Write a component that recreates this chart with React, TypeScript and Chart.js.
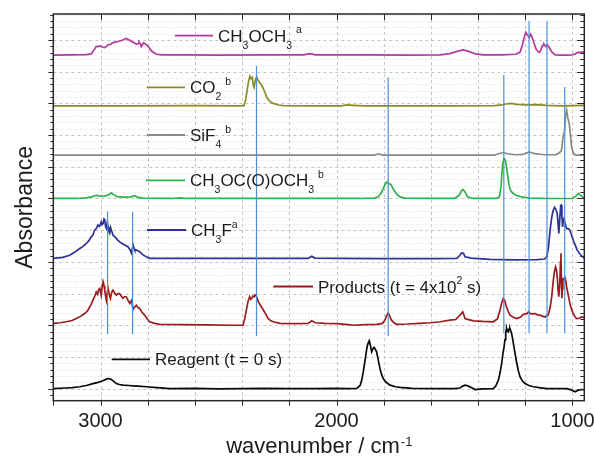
import React, { useEffect, useRef } from "react";
import { Chart, registerables } from "chart.js";

Chart.register(...registerables);

// ---------- DATA (wavenumber cm-1, absorbance offset units) ----------
const dmeSpectrum: number[][] = [
  [3200, 10.52], [3120, 10.53], [3060, 10.54], [3039, 10.56], [3028, 10.68], [3018, 10.8], [3010, 10.79],
  [3003, 10.81], [2990, 10.77], [2982, 10.76], [2975, 10.8], [2968, 10.85], [2958, 10.86], [2947, 10.92],
  [2935, 10.93], [2919, 10.97], [2905, 11.0], [2891, 11.05], [2880, 11.01], [2868, 10.95], [2858, 10.91],
  [2848, 10.87], [2840, 10.89], [2837, 10.94], [2830, 10.86], [2827, 10.79], [2822, 10.85], [2817, 10.91],
  [2808, 10.86], [2799, 10.81], [2785, 10.66], [2764, 10.55], [2740, 10.53], [2650, 10.53], [2500, 10.52],
  [2300, 10.53], [2140, 10.53], [2112, 10.57], [2090, 10.53], [1900, 10.53], [1700, 10.52], [1560, 10.53],
  [1520, 10.57], [1490, 10.64], [1463, 10.69], [1440, 10.64], [1410, 10.56], [1380, 10.53], [1300, 10.53],
  [1240, 10.55], [1222, 10.62], [1212, 10.85], [1204, 11.1], [1198, 11.24], [1192, 11.16], [1186, 11.12],
  [1183, 11.08], [1177, 11.18], [1172, 11.1], [1166, 10.97], [1155, 10.72], [1149, 10.66], [1142, 10.61],
  [1135, 10.66], [1130, 10.78], [1125, 10.84], [1121, 10.87], [1116, 10.82], [1112, 10.79], [1107, 10.85],
  [1102, 10.8], [1095, 10.71], [1085, 10.6], [1074, 10.53], [1050, 10.52], [1020, 10.52], [1002, 10.53],
  [990, 10.56], [980, 10.6], [970, 10.61], [960, 10.62], [950, 10.62],
];

const co2Spectrum: number[][] = [
  [3200, 8.92], [2900, 8.92], [2600, 8.93], [2420, 8.92], [2392, 8.93], [2385, 9.1], [2378, 9.45],
  [2372, 9.72], [2367, 9.86], [2362, 9.78], [2357, 9.82], [2352, 9.55], [2349, 9.5], [2345, 9.7],
  [2341, 9.8], [2338, 9.82], [2333, 9.74], [2326, 9.66], [2318, 9.58], [2310, 9.47], [2302, 9.32],
  [2296, 9.2], [2285, 9.08], [2268, 9.0], [2245, 8.95], [2225, 8.93], [2100, 8.92], [1980, 8.92],
  [1957, 8.95], [1930, 8.94], [1880, 8.92], [1700, 8.92], [1500, 8.92], [1330, 8.93], [1300, 8.95],
  [1280, 8.98], [1258, 9.0], [1240, 8.97], [1215, 8.96], [1190, 8.95], [1150, 8.96], [1110, 8.94],
  [1080, 8.93], [1040, 8.92], [1000, 8.93], [950, 8.94],
];

const sif4Spectrum: number[][] = [
  [3200, 7.37], [3000, 7.37], [2700, 7.37], [2400, 7.37], [2100, 7.37], [1840, 7.37], [1823, 7.41],
  [1805, 7.37], [1500, 7.37], [1330, 7.37], [1310, 7.42], [1293, 7.45], [1275, 7.41], [1240, 7.38],
  [1210, 7.39], [1183, 7.47], [1165, 7.42], [1120, 7.38], [1070, 7.38], [1055, 7.45], [1047, 7.5],
  [1039, 8.0], [1034, 8.1], [1029, 8.63], [1025, 8.79], [1020, 8.55], [1014, 8.37], [1008, 7.95],
  [1004, 7.63], [995, 7.4], [985, 7.37], [950, 7.37],
];

const dmcSpectrum: number[][] = [
  [3200, 6.0], [3100, 6.0], [3060, 6.02], [3035, 6.06], [3018, 6.1], [3005, 6.08], [2990, 6.07],
  [2975, 6.09], [2962, 6.13], [2954, 6.18], [2945, 6.12], [2930, 6.06], [2900, 6.04], [2870, 6.05],
  [2855, 6.09], [2845, 6.04], [2820, 6.01], [2700, 6.0], [2660, 6.02], [2640, 6.0], [2400, 6.0],
  [2100, 6.0], [1900, 6.0], [1840, 6.01], [1823, 6.05], [1810, 6.18], [1798, 6.38], [1790, 6.5],
  [1785, 6.52], [1778, 6.46], [1770, 6.45], [1762, 6.33], [1752, 6.21], [1740, 6.1], [1731, 6.05],
  [1710, 6.01], [1600, 6.0], [1500, 6.0], [1480, 6.1], [1470, 6.25], [1463, 6.28], [1455, 6.2],
  [1445, 6.05], [1420, 6.0], [1320, 6.0], [1310, 6.06], [1303, 6.35], [1299, 6.8], [1295, 7.12],
  [1290, 7.26], [1285, 7.22], [1280, 7.02], [1275, 6.75], [1269, 6.42], [1262, 6.25], [1255, 6.18],
  [1240, 6.1], [1220, 6.06], [1200, 6.03], [1180, 6.01], [1100, 6.0], [1000, 6.0], [985, 6.08],
  [975, 6.16], [965, 6.1], [955, 6.03], [950, 6.02],
];

const ch3fSpectrum: number[][] = [
  [3200, 4.11], [3160, 4.14], [3131, 4.21], [3110, 4.3], [3088, 4.42], [3075, 4.48], [3060, 4.58],
  [3050, 4.66], [3039, 4.79], [3032, 4.85], [3025, 5.0], [3018, 5.05], [3011, 5.16], [3004, 5.12],
  [2997, 5.26], [2993, 5.18], [2989, 5.21], [2985, 5.35], [2982, 5.32], [2978, 5.1], [2975, 5.05],
  [2971, 5.25], [2968, 5.1], [2964, 4.95], [2961, 4.9], [2957, 5.08], [2954, 5.0], [2950, 4.92],
  [2947, 4.84], [2940, 4.8], [2933, 4.74], [2926, 4.68], [2919, 4.63], [2908, 4.58], [2897, 4.53],
  [2890, 4.5], [2883, 4.47], [2876, 4.4], [2869, 4.28], [2865, 4.42], [2862, 4.53], [2858, 4.42],
  [2855, 4.37], [2848, 4.38], [2840, 4.34], [2834, 4.32], [2820, 4.22], [2806, 4.16], [2792, 4.11],
  [2700, 4.11], [2500, 4.11], [2300, 4.11], [2120, 4.11], [2105, 4.18], [2092, 4.12], [2000, 4.11],
  [1800, 4.1], [1600, 4.1], [1490, 4.11], [1478, 4.2], [1470, 4.28], [1462, 4.27], [1455, 4.16],
  [1430, 4.12], [1350, 4.08], [1250, 4.06], [1150, 4.07], [1118, 4.09], [1109, 4.16], [1102, 4.45],
  [1095, 5.0], [1088, 5.4], [1082, 5.62], [1076, 5.72], [1070, 5.65], [1065, 5.53], [1061, 5.2],
  [1058, 4.9], [1054, 5.35], [1050, 5.78], [1048, 5.79], [1045, 5.45], [1042, 5.1], [1039, 5.3],
  [1036, 5.37], [1031, 5.2], [1025, 5.05], [1018, 5.05], [1011, 5.0], [1004, 4.85], [997, 4.68],
  [988, 4.52], [980, 4.37], [968, 4.24], [957, 4.16], [950, 4.12],
];

const productsSpectrum: number[][] = [
  [3200, 2.06], [3170, 2.08], [3145, 2.11], [3120, 2.15], [3103, 2.21], [3085, 2.28], [3067, 2.37],
  [3055, 2.45], [3046, 2.58], [3040, 2.65], [3032, 2.79], [3025, 2.9], [3018, 3.05], [3012, 2.98],
  [3008, 3.12], [3003, 3.16], [2997, 2.95], [2993, 3.2], [2989, 3.37], [2985, 3.25], [2982, 3.11],
  [2978, 2.9], [2975, 2.79], [2971, 3.05], [2968, 3.16], [2963, 2.98], [2958, 2.85], [2952, 3.05],
  [2947, 3.11], [2940, 3.02], [2933, 2.95], [2926, 3.0], [2919, 3.0], [2912, 2.92], [2905, 2.85],
  [2898, 2.9], [2891, 2.9], [2883, 2.78], [2876, 2.69], [2868, 2.79], [2865, 2.62], [2862, 2.5],
  [2855, 2.58], [2848, 2.63], [2840, 2.55], [2834, 2.53], [2825, 2.42], [2813, 2.32], [2800, 2.18],
  [2792, 2.11], [2770, 2.06], [2749, 2.03], [2650, 2.02], [2550, 2.01], [2450, 2.0], [2396, 2.0],
  [2389, 2.2], [2382, 2.48], [2375, 2.75], [2368, 2.9], [2363, 2.82], [2359, 2.85], [2354, 2.92],
  [2349, 2.9], [2345, 2.96], [2341, 2.95], [2336, 2.85], [2331, 2.74], [2320, 2.6], [2310, 2.48],
  [2300, 2.35], [2289, 2.21], [2278, 2.14], [2268, 2.11], [2240, 2.06], [2180, 2.05], [2120, 2.06],
  [2105, 2.14], [2090, 2.08], [2050, 2.06], [2000, 2.05], [1950, 2.02], [1929, 2.0], [1880, 2.02],
  [1830, 2.03], [1805, 2.06], [1795, 2.16], [1788, 2.3], [1781, 2.39], [1775, 2.3], [1767, 2.16],
  [1755, 2.07], [1745, 2.03], [1700, 2.04], [1650, 2.06], [1600, 2.08], [1560, 2.11], [1519, 2.16],
  [1495, 2.18], [1477, 2.32], [1465, 2.42], [1455, 2.21], [1440, 2.18], [1420, 2.14], [1380, 2.12],
  [1336, 2.11], [1318, 2.2], [1307, 2.48], [1300, 2.7], [1293, 2.85], [1287, 2.78], [1282, 2.63],
  [1273, 2.45], [1265, 2.32], [1250, 2.25], [1236, 2.21], [1220, 2.26], [1210, 2.33], [1201, 2.37],
  [1193, 2.36], [1187, 2.42], [1175, 2.36], [1159, 2.37], [1148, 2.33], [1138, 2.32], [1125, 2.28],
  [1117, 2.26], [1110, 2.3], [1103, 2.32], [1095, 2.55], [1088, 2.9], [1083, 3.3], [1078, 3.63],
  [1072, 3.84], [1068, 3.75], [1064, 3.48], [1061, 3.1], [1058, 2.9], [1054, 3.3], [1051, 4.0],
  [1049, 4.27], [1047, 3.5], [1045, 2.85], [1043, 3.15], [1041, 3.42], [1036, 3.48], [1032, 3.53],
  [1028, 3.38], [1025, 3.21], [1018, 2.95], [1011, 2.69], [1004, 2.5], [997, 2.37], [990, 2.28],
  [983, 2.21], [972, 2.22], [961, 2.26], [950, 2.24],
];

const reagentSpectrum: number[][] = [
  [3200, 0.0], [3150, 0.02], [3120, 0.03], [3088, 0.06], [3060, 0.1], [3032, 0.16], [3010, 0.2],
  [2990, 0.25], [2975, 0.3], [2968, 0.32], [2960, 0.31], [2954, 0.29], [2945, 0.24], [2933, 0.16],
  [2920, 0.13], [2905, 0.11], [2880, 0.1], [2862, 0.09], [2840, 0.08], [2806, 0.06], [2760, 0.03],
  [2707, 0.0], [2600, 0.01], [2500, -0.01], [2400, 0.0], [2300, 0.01], [2200, 0.0], [2100, 0.0],
  [2000, 0.01], [1950, 0.0], [1914, 0.01], [1900, 0.1], [1893, 0.27], [1886, 0.55], [1879, 0.9],
  [1873, 1.2], [1869, 1.37], [1865, 1.45], [1861, 1.51], [1856, 1.35], [1851, 1.16], [1846, 1.25],
  [1841, 1.3], [1836, 1.25], [1830, 1.16], [1823, 0.9], [1816, 0.64], [1809, 0.45], [1802, 0.32],
  [1790, 0.2], [1773, 0.11], [1750, 0.06], [1731, 0.04], [1680, 0.01], [1600, 0.0], [1540, 0.0],
  [1500, 0.0], [1477, 0.02], [1465, 0.08], [1455, 0.11], [1448, 0.1], [1441, 0.08], [1425, 0.02],
  [1413, -0.03], [1380, -0.01], [1336, 0.0], [1325, 0.08], [1314, 0.27], [1307, 0.5], [1300, 0.8],
  [1295, 1.1], [1290, 1.32], [1286, 1.55], [1283, 1.74], [1281, 1.85], [1279, 1.9], [1276, 1.82],
  [1272, 1.79], [1269, 1.88], [1265, 1.9], [1262, 1.83], [1258, 1.74], [1253, 1.55], [1248, 1.32],
  [1242, 1.05], [1236, 0.8], [1229, 0.55], [1222, 0.37], [1212, 0.24], [1201, 0.16], [1185, 0.1],
  [1166, 0.06], [1140, 0.03], [1109, 0.0], [1060, 0.0], [1025, 0.0], [1005, -0.04], [989, -0.1],
  [978, -0.06], [966, -0.03], [950, -0.03],
];

// Reference band markers (vertical lines)
const markerWavenumbers = [2970, 2864, 2339, 1781, 1291, 1184, 1108, 1033];
const markerTops = [5.6, 5.57, 10.18, 9.82, 9.9, 11.6, 11.6, 9.52];
const markerBottoms = [1.72, 1.72, 1.66, 1.66, 1.75, 1.75, 1.75, 1.75];

// Axis ticks
const xTickValues = [3200, 3000, 2800, 2600, 2400, 2200, 2000, 1800, 1600, 1400, 1200, 1000];
const xLabelValues = [3000, 2000, 1000];
const yMajorValues = [0, 1, 2, 3, 4, 5, 6, 7, 8, 9, 10, 11];

// ---------- STYLE ----------
const FONT = "'Liberation Sans', Arial, Helvetica, sans-serif";
const TEXT = "#1c1c1c";

type Seg = { t: string; sub?: boolean; sup?: boolean };
const seriesDefs = [
  { data: dmeSpectrum, color: "#b23aa0", label: [{ t: "CH" }, { t: "3", sub: true }, { t: "OCH" }, { t: "3", sub: true }, { t: "a", sup: true }] as Seg[], lx: 175, ly: 35.7, len: 38 },
  { data: co2Spectrum, color: "#8b8c26", label: [{ t: "CO" }, { t: "2", sub: true }, { t: "b", sup: true }] as Seg[], lx: 146.7, ly: 87.3, len: 38.3 },
  { data: sif4Spectrum, color: "#8a8a8a", label: [{ t: "SiF" }, { t: "4", sub: true }, { t: "b", sup: true }] as Seg[], lx: 146.7, ly: 135, len: 38.3 },
  { data: dmcSpectrum, color: "#2cb34a", label: [{ t: "CH" }, { t: "3", sub: true }, { t: "OC(O)OCH" }, { t: "3", sub: true }, { t: "b", sup: true }] as Seg[], lx: 146, ly: 180.3, len: 39 },
  { data: ch3fSpectrum, color: "#2d3193", label: [{ t: "CH" }, { t: "3", sub: true }, { t: "F" }, { t: "a", sup: true }] as Seg[], lx: 147, ly: 230, len: 39 },
  { data: productsSpectrum, color: "#9b1c20", label: [{ t: "Products (t = 4x10" }, { t: "2", sup: true }, { t: " s)" }] as Seg[], lx: 273.3, ly: 286.5, len: 39.7 },
  { data: reagentSpectrum, color: "#0a0a0a", label: [{ t: "Reagent (t = 0 s)" }] as Seg[], lx: 111.7, ly: 359.3, len: 38.3 },
];

const decorPlugin = {
  id: "decor",
  beforeDatasetsDraw(chart: any) {
    const { ctx, chartArea: a, scales } = chart;
    const xs = scales.x, ys = scales.y;
    ctx.save();
    ctx.lineWidth = 1;
    ys.ticks.forEach((t: any) => {
      const major = Math.abs(t.value - Math.round(t.value)) < 1e-6;
      const py = Math.round(ys.getPixelForValue(t.value)) + 0.5;
      ctx.strokeStyle = major ? "#c4c4c4" : "#dcdcdc";
      ctx.setLineDash(major ? [3, 3] : [1, 2]);
      ctx.beginPath(); ctx.moveTo(a.left, py); ctx.lineTo(a.right, py); ctx.stroke();
    });
    ctx.strokeStyle = "#c4c4c4";
    ctx.setLineDash([3, 3]);
    xs.ticks.forEach((t: any) => {
      const px = Math.round(xs.getPixelForValue(t.value)) + 0.5;
      ctx.beginPath(); ctx.moveTo(px, a.top); ctx.lineTo(px, a.bottom); ctx.stroke();
    });
    ctx.restore();
  },
  afterDatasetsDraw(chart: any) {
    const { ctx, chartArea: a, scales } = chart;
    const xs = scales.x, ys = scales.y;
    ctx.save();
    ctx.strokeStyle = "#2a2a2a";
    ctx.lineWidth = 1;
    ctx.setLineDash([]);
    xs.ticks.forEach((t: any) => {
      const px = Math.round(xs.getPixelForValue(t.value)) + 0.5;
      ctx.beginPath(); ctx.moveTo(px, a.bottom); ctx.lineTo(px, a.bottom + 5); ctx.stroke();
      ctx.beginPath(); ctx.moveTo(px, a.top); ctx.lineTo(px, a.top + 6); ctx.stroke();
    });
    ys.ticks.forEach((t: any) => {
      const major = Math.abs(t.value - Math.round(t.value)) < 1e-6;
      const py = Math.round(ys.getPixelForValue(t.value)) + 0.5;
      ctx.beginPath(); ctx.moveTo(a.left - (major ? 5 : 3), py); ctx.lineTo(a.left, py); ctx.stroke();
      ctx.beginPath(); ctx.moveTo(a.right - (major ? 7 : 4), py); ctx.lineTo(a.right, py); ctx.stroke();
    });
    ctx.lineWidth = 1.5;
    ctx.strokeRect(a.left, a.top, a.right - a.left, a.bottom - a.top);

    // inline legend
    ctx.fillStyle = TEXT;
    ctx.textBaseline = "alphabetic";
    ctx.textAlign = "left";
    seriesDefs.forEach((s) => {
      ctx.strokeStyle = s.color;
      ctx.lineWidth = 1.8;
      ctx.beginPath(); ctx.moveTo(s.lx, s.ly); ctx.lineTo(s.lx + s.len, s.ly); ctx.stroke();
      let cx = s.lx + s.len + 5;
      const base = s.ly + 6;
      let prevSub = false;
      s.label.forEach((seg) => {
        if (seg.sub || seg.sup) {
          ctx.font = `10.5px ${FONT}`;
          if (seg.sup && prevSub) cx += 4;
          const dy = seg.sub ? 7 : -8.5;
          ctx.fillText(seg.t, cx, base + dy);
          cx += ctx.measureText(seg.t).width;
        } else {
          ctx.font = `17px ${FONT}`;
          ctx.fillText(seg.t, cx, base);
          cx += ctx.measureText(seg.t).width;
        }
        prevSub = !!seg.sub;
      });
    });

    // axis titles
    ctx.fillStyle = TEXT;
    const main = "wavenumber / cm";
    ctx.font = `22px ${FONT}`;
    const mw = ctx.measureText(main).width;
    ctx.font = `13px ${FONT}`;
    const sw = ctx.measureText("-1").width;
    const startX = (a.left + a.right) / 2 - (mw + sw) / 2;
    ctx.font = `22px ${FONT}`;
    ctx.fillText(main, startX, 453);
    ctx.font = `13px ${FONT}`;
    ctx.fillText("-1", startX + mw + 1, 446);

    ctx.save();
    ctx.translate(31.5, (a.top + a.bottom) / 2);
    ctx.rotate(-Math.PI / 2);
    ctx.textAlign = "center";
    ctx.font = `23px ${FONT}`;
    ctx.fillText("Absorbance", 0, 0);
    ctx.restore();

    ctx.restore();
  },
};

export default function App() {
  const ref = useRef<HTMLCanvasElement | null>(null);
  useEffect(() => {
    if (!ref.current) return;
    const traceSets = seriesDefs.map((s) => ({
      data: s.data.map(([x, y]) => ({ x, y })),
      borderColor: s.color,
      borderWidth: 1.7,
      pointRadius: 0,
      tension: 0,
      fill: false,
      order: 2,
    }));
    const markerSets = markerWavenumbers.map((w, i) => ({
      data: [{ x: w, y: markerBottoms[i] }, { x: w, y: markerTops[i] }],
      borderColor: "#4a90d9",
      borderWidth: 1.2,
      pointRadius: 0,
      fill: false,
      order: 1,
    }));
    const chart = new Chart(ref.current, {
      type: "line",
      data: { datasets: [...markerSets, ...traceSets] as any },
      options: {
        animation: false,
        responsive: false,
        maintainAspectRatio: false,
        layout: { padding: { left: 0, top: 14, right: 9.7, bottom: 0 } },
        plugins: { legend: { display: false }, tooltip: { enabled: false } },
        scales: {
          x: {
            type: "linear",
            reverse: true,
            min: 950,
            max: 3200,
            afterBuildTicks: (s: any) => { s.ticks = xTickValues.map((v) => ({ value: v })); },
            afterFit: (s: any) => { s.height = 58.3; s.paddingLeft = 0; s.paddingRight = 0; },
            grid: { display: false, drawTicks: false },
            border: { display: false },
            ticks: {
              autoSkip: false,
              maxRotation: 0,
              padding: 9,
              color: TEXT,
              font: { family: FONT, size: 20 },
              callback: (v: any) => (xLabelValues.includes(Number(v)) ? String(v) : ""),
            },
          },
          y: {
            type: "linear",
            min: -0.38,
            max: 11.82,
            afterBuildTicks: (s: any) => {
              const arr: any[] = [{ value: -0.2 }];
              yMajorValues.forEach((m) => {
                for (let k = 0; k < 5; k++) {
                  const v = Math.round((m + k * 0.2) * 10) / 10;
                  if (v <= 11.82) arr.push({ value: v });
                }
              });
              s.ticks = arr;
            },
            afterFit: (s: any) => { s.width = 53.3; s.paddingTop = 0; s.paddingBottom = 0; },
            grid: { display: false, drawTicks: false },
            border: { display: false },
            ticks: { display: false },
          },
        },
      },
      plugins: [decorPlugin],
    });
    return () => chart.destroy();
  }, []);
  return (
    <div style={{ position: "absolute", left: 0, top: 0, width: 594, height: 459, background: "#fff" }}>
      <canvas ref={ref} width={594} height={459} style={{ display: "block" }} />
    </div>
  );
}
